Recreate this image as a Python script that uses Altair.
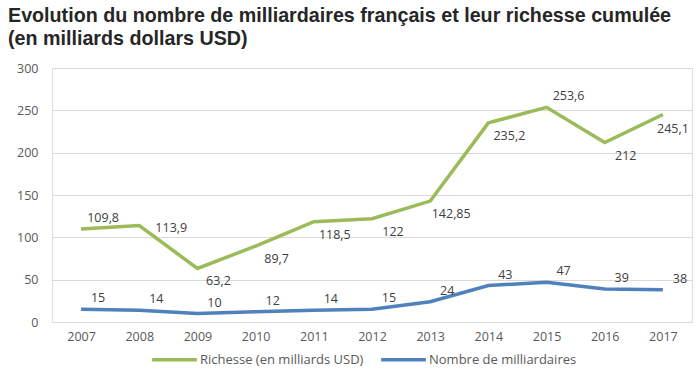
import altair as alt
import pandas as pd

years = [2007, 2008, 2009, 2010, 2011, 2012, 2013, 2014, 2015, 2016, 2017]
richesse = [109.8, 113.9, 63.2, 89.7, 118.5, 122, 142.85, 235.2, 253.6, 212, 245.1]
nombre = [15, 14, 10, 12, 14, 15, 24, 43, 47, 39, 38]
richesse_labels = ["109,8", "113,9", "63,2", "89,7", "118,5", "122", "142,85", "235,2", "253,6", "212", "245,1"]
nombre_labels = ["15", "14", "10", "12", "14", "15", "24", "43", "47", "39", "38"]
series_names = ["Richesse (en milliards USD)", "Nombre de milliardaires"]
colors = ["#9BBB59", "#4F81BD"]
green_above = [2007, 2015]
green_right = [2008]
green_below_near = [2017]

rows = []
for y, v, l in zip(years, richesse, richesse_labels):
    if y in green_above:
        pos = "above"
    elif y in green_right:
        pos = "right"
    elif y in green_below_near:
        pos = "near"
    else:
        pos = "below"
    rows.append({"year": str(y), "value": v, "label": l, "series": series_names[0], "pos": pos})
for y, v, l in zip(years, nombre, nombre_labels):
    rows.append({"year": str(y), "value": v, "label": l, "series": series_names[1], "pos": "above"})
df = pd.DataFrame(rows)

x = alt.X("year:O", scale=alt.Scale(type="point", padding=0.5),
          axis=alt.Axis(title=None, labelAngle=0, ticks=False, domain=False,
                        labelColor="#595959", labelFontSize=12.5, labelFont="Open Sans",
                        labelPadding=8))
y = alt.Y("value:Q", scale=alt.Scale(domain=[0, 300], nice=False),
          axis=alt.Axis(title=None, values=[0, 50, 100, 150, 200, 250, 300], ticks=False,
                        domain=False, gridColor="#D9D9D9", labelColor="#595959",
                        labelFontSize=12.5, labelFont="Open Sans", labelPadding=14))

base = alt.Chart(df)

lines = base.mark_line(strokeWidth=3.5).encode(
    x=x, y=y,
    color=alt.Color("series:N", scale=alt.Scale(domain=series_names, range=colors),
                    legend=alt.Legend(title=None, orient="none", legendX=98, legendY=267,
                                      direction="horizontal", symbolType="stroke",
                                      symbolStrokeWidth=3.5, symbolSize=2000,
                                      labelColor="#595959", labelFontSize=13,
                                      labelFont="Open Sans", columnPadding=10,
                                      labelOffset=1, labelLimit=300))
)

def labels(series, pos, dx, dy):
    return base.mark_text(dx=dx, dy=dy, fontSize=12.5, font="Open Sans", color="#404040").encode(
        x=x, y=y, text="label:N"
    ).transform_filter((alt.datum.series == series) & (alt.datum.pos == pos))

g_below = labels(series_names[0], "below", 21, 13)
g_near = labels(series_names[0], "near", 10, 15)
g_above = labels(series_names[0], "above", 22, -11)
g_right = labels(series_names[0], "right", 32, 2)
b_above = labels(series_names[1], "above", 17, -11)

chart = alt.layer(lines, g_below, g_near, g_above, g_right, b_above).properties(
    width=640, height=254,
    autosize=alt.AutoSizeParams(type="none"),
    padding={"left": 52, "top": 68, "right": 8, "bottom": 53},
    title=alt.TitleParams(
        text=["Evolution du nombre de milliardaires français et leur richesse cumulée",
              "(en milliards dollars USD)"],
        anchor="start", dx=-44, offset=13, fontSize=19.7, font="Liberation Sans",
        fontWeight="bold", color="#262626", lineHeight=23, frame="group"),
).configure_view(stroke=None).configure(background="white")

chart.save("out.html", embed_options={"renderer": "svg", "actions": False})
